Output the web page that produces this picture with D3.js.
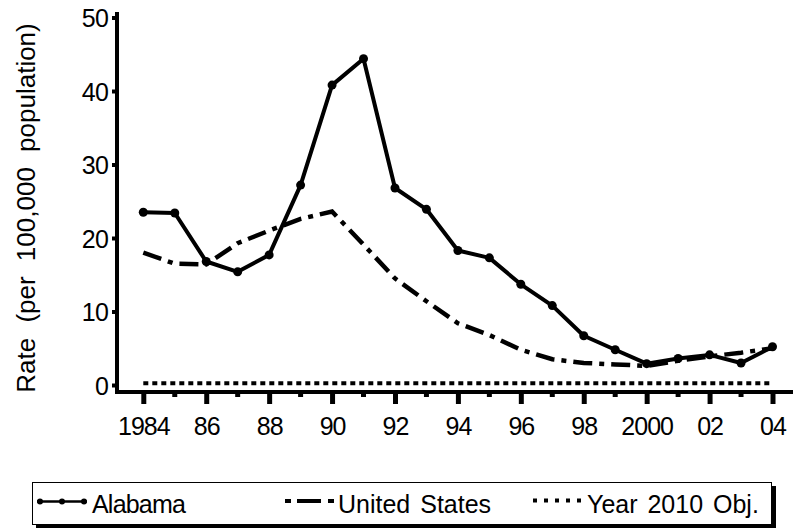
<!DOCTYPE html>
<html>
<head>
<meta charset="utf-8">
<script src="https://cdn.jsdelivr.net/npm/d3@7"></script>
<style>
  body { margin: 0; background: #fff; }
  svg { display: block; font-family: "Liberation Sans", Arial, sans-serif; }
</style>
</head>
<body>
<script>
// data
var years = [1984, 1985, 1986, 1987, 1988, 1989, 1990, 1991, 1992, 1993, 1994,
             1995, 1996, 1997, 1998, 1999, 2000, 2001, 2002, 2003, 2004];
var alabama = [23.5, 23.4, 16.8, 15.4, 17.7, 27.2, 40.8, 44.4, 26.8, 23.9, 18.3,
               17.3, 13.7, 10.8, 6.7, 4.8, 2.9, 3.6, 4.1, 3.0, 5.2];
var unitedStates = [18.0, 16.5, 16.4, 19.3, 21.0, 22.6, 23.6, 19.1, 14.5, 11.4, 8.4,
                    6.8, 4.8, 3.5, 3.0, 2.8, 2.6, 3.3, 3.9, 4.4, 5.0];
var objective = 0.25;
var yTicks = [0, 10, 20, 30, 40, 50];
var xTickLabels = {1984: "1984", 1986: "86", 1988: "88", 1990: "90", 1992: "92", 1994: "94",
                   1996: "96", 1998: "98", 2000: "2000", 2002: "02", 2004: "04"};
var legendLabels = ["Alabama", "United States", "Year 2010 Obj."];

var W = 793, H = 528;

var svg = d3.select("body").append("svg")
    .attr("width", W)
    .attr("height", H);

var x = d3.scaleLinear().domain([1984, 2004]).range([143.3, 772.5]);
var y = d3.scaleLinear().domain([0, 50]).range([385, 17.5]);

var axisX = 117, axisY = 392;

// y axis
var yAxis = d3.axisLeft(y)
    .tickValues(yTicks)
    .tickSize(5)
    .tickPadding(4)
    .tickFormat(d3.format("d"));

var gy = svg.append("g")
    .attr("transform", "translate(" + axisX + ",0)")
    .call(yAxis);
gy.select(".domain").remove();
gy.selectAll(".tick line").attr("stroke", "#000").attr("stroke-width", 4);
gy.selectAll(".tick text")
    .attr("fill", "#000")
    .style("font-size", "25px")
    .style("letter-spacing", "-0.8px")
    .attr("dy", "0.36em");

// x axis : labelled ticks on even years, short ones on odd years
var xAxis = d3.axisBottom(x)
    .tickValues(years.filter(function(d) { return d % 2 === 0; }))
    .tickSize(12)
    .tickPadding(13)
    .tickFormat(function(d) { return xTickLabels[d]; });

var gx = svg.append("g")
    .attr("transform", "translate(0," + axisY + ")")
    .call(xAxis);
gx.select(".domain").remove();
gx.selectAll(".tick line").attr("stroke", "#000").attr("stroke-width", 5);
gx.selectAll(".tick text")
    .attr("fill", "#000")
    .style("font-size", "25px")
    .style("letter-spacing", "-1px")
    .attr("dy", "0.72em");

gx.selectAll(".minor")
    .data(years.filter(function(d) { return d % 2 === 1; }))
    .enter().append("line")
    .attr("x1", function(d) { return x(d); })
    .attr("x2", function(d) { return x(d); })
    .attr("y1", 0)
    .attr("y2", 5)
    .attr("stroke", "#000")
    .attr("stroke-width", 5);

// axis lines
svg.append("line")
    .attr("x1", axisX).attr("x2", axisX)
    .attr("y1", 12).attr("y2", axisY + 2)
    .attr("stroke", "#000").attr("stroke-width", 4);
svg.append("line")
    .attr("x1", axisX - 2).attr("x2", W)
    .attr("y1", axisY).attr("y2", axisY)
    .attr("stroke", "#000").attr("stroke-width", 4);

// y label
svg.append("text")
    .attr("transform", "translate(35," + 208 + ") rotate(-90)")
    .attr("text-anchor", "middle")
    .style("font-size", "26px")
    .style("word-spacing", "8px")
    .text("Rate (per 100,000 population)");

// lines
var line = d3.line()
    .x(function(d) { return x(d[0]); })
    .y(function(d) { return y(d[1]); });

svg.append("path")
    .datum(years.map(function(yr) { return [yr, objective]; }))
    .attr("d", line)
    .attr("fill", "none")
    .attr("stroke", "#000")
    .attr("stroke-width", 4)
    .attr("stroke-dasharray", "5,4");

svg.append("path")
    .datum(years.map(function(yr, i) { return [yr, unitedStates[i]]; }))
    .attr("d", line)
    .attr("fill", "none")
    .attr("stroke", "#000")
    .attr("stroke-width", 4.5)
    .attr("stroke-dasharray", "19,7,5,7");

var alData = years.map(function(yr, i) { return [yr, alabama[i]]; });
svg.append("path")
    .datum(alData)
    .attr("d", line)
    .attr("fill", "none")
    .attr("stroke", "#000")
    .attr("stroke-width", 4)
    .attr("stroke-linejoin", "round");

svg.selectAll(".dot")
    .data(alData)
    .enter().append("circle")
    .attr("cx", function(d) { return x(d[0]); })
    .attr("cy", function(d) { return y(d[1]); })
    .attr("r", 4.5)
    .attr("fill", "#000");

// legend
var lg = svg.append("g");
lg.append("rect")
    .attr("x", 36).attr("y", 486).attr("width", 740).attr("height", 42)
    .attr("fill", "#000");
lg.append("rect")
    .attr("x", 32.5).attr("y", 482.5).attr("width", 739).attr("height", 42)
    .attr("fill", "#fff").attr("stroke", "#000").attr("stroke-width", 1);

// Alabama symbol
lg.append("line")
    .attr("x1", 37).attr("x2", 87).attr("y1", 501.5).attr("y2", 501.5)
    .attr("stroke", "#000").attr("stroke-width", 2.5);
lg.selectAll(".ldot")
    .data([40, 62, 84])
    .enter().append("circle")
    .attr("cx", function(d) { return d; })
    .attr("cy", 501.5)
    .attr("r", 3)
    .attr("fill", "#000");

// United States symbol
lg.append("line")
    .attr("x1", 285).attr("x2", 336).attr("y1", 501).attr("y2", 501)
    .attr("stroke", "#000").attr("stroke-width", 4)
    .attr("stroke-dasharray", "6,6,24,7,6,10");

// Objective symbol
lg.append("line")
    .attr("x1", 533).attr("x2", 584).attr("y1", 500.5).attr("y2", 500.5)
    .attr("stroke", "#000").attr("stroke-width", 4)
    .attr("stroke-dasharray", "4,7");

lg.selectAll(".ltext")
    .data(legendLabels)
    .enter().append("text")
    .attr("x", function(d, i) { return [92, 338, 587][i]; })
    .attr("y", 513)
    .style("font-size", "25px")
    .style("letter-spacing", function(d, i) { return i === 0 ? "-0.8px" : "0px"; })
    .style("word-spacing", "3px")
    .text(function(d) { return d; });
</script>
</body>
</html>
